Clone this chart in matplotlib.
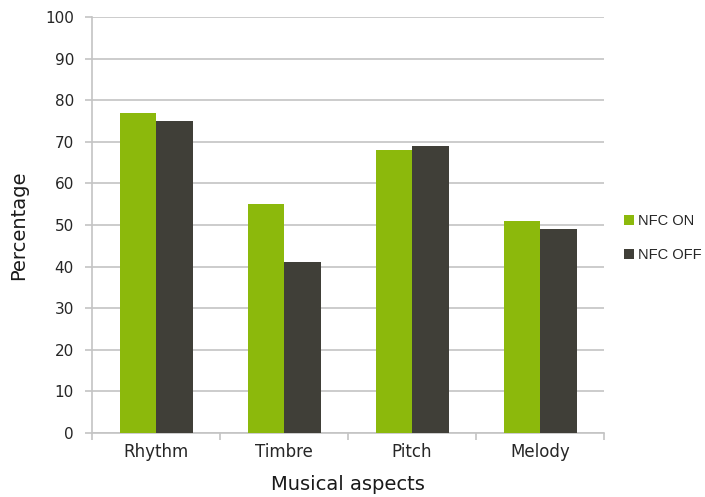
import numpy as np
import matplotlib
matplotlib.use("Agg")
import matplotlib.pyplot as plt

## data
categories = ["Rhythm", "Timbre", "Pitch", "Melody"]
nfc_on = [77, 55, 68, 51]
nfc_off = [75, 41, 69, 49]
series_names = ["NFC ON", "NFC OFF"]

green = "#8cb90c"
dark = "#403f38"
grey = "#c4c4c4"

fig = plt.figure(figsize=(7.05, 4.97), dpi=100)
ax = fig.add_axes([0.1305, 0.1288, 0.7265, 0.837])

x = np.arange(len(categories))
w = 0.285
ax.bar(x - w/2, nfc_on, w, color=green, label=series_names[0], zorder=3)
ax.bar(x + w/2, nfc_off, w, color=dark, label=series_names[1], zorder=3)

## axes
ax.set_xlim(-0.5, len(categories) - 0.5)
ax.set_ylim(0, 100)
ax.set_yticks(np.arange(0, 101, 10))
ax.yaxis.grid(True, color=grey, linewidth=1.2, zorder=0)
ax.set_xticks(x)
ax.set_xticklabels(categories, fontsize=12, color="#262626")
ax.set_xticks(np.arange(-0.5, len(categories)), minor=True)
ax.tick_params(axis="x", which="major", length=0, pad=7)
ax.tick_params(axis="x", which="minor", length=5, color=grey, width=1.2)
ax.tick_params(axis="y", length=5, color=grey, width=1.2, labelsize=11,
               labelcolor="#262626", pad=8)
for s in ["top", "right"]:
    ax.spines[s].set_visible(False)
for s in ["left", "bottom"]:
    ax.spines[s].set_color(grey)
    ax.spines[s].set_linewidth(1.2)

ax.set_xlabel("Musical aspects", fontsize=14, color="#1a1a1a", labelpad=10)
ax.set_ylabel("Percentage", fontsize=14, color="#1a1a1a", labelpad=12)

leg = ax.legend(loc="center left", bbox_to_anchor=(1.014, 0.468), frameon=False,
                prop={"family": "Liberation Sans", "size": 10.5},
                handlelength=0.65, handleheight=0.65,
                handletextpad=0.3, labelspacing=1.35)
for t in leg.get_texts():
    t.set_color("#262626")

fig.savefig("out.png", dpi=100)
